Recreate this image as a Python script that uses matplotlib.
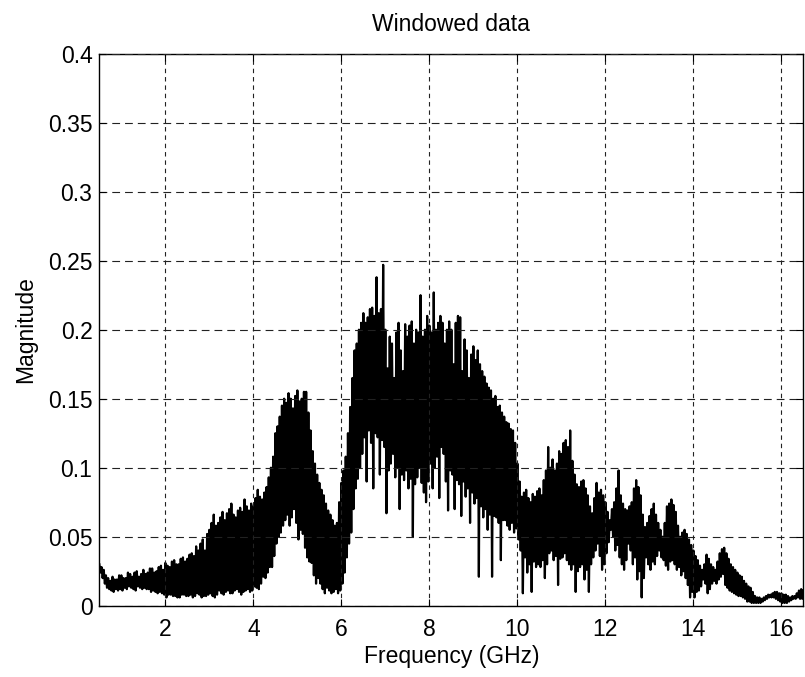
import numpy as np
import matplotlib
matplotlib.use("Agg")
import matplotlib.pyplot as plt

# Spectrum magnitude: local maxima every 0.05 GHz from 0.5 GHz and local
# minima every 0.05 GHz from 0.525 GHz of the windowed measurement.
peak_start, trough_start, step = 0.5, 0.525, 0.05

peaks = [
    0.030, 0.028, 0.026, 0.022, 0.020, 0.018, 0.021, 0.019, 0.019, 0.022,
    0.022, 0.020, 0.020, 0.024, 0.023, 0.021, 0.024, 0.025, 0.021, 0.023,
    0.026, 0.023, 0.024, 0.027, 0.027, 0.024, 0.025, 0.028, 0.029, 0.026,
    0.031, 0.029, 0.028, 0.032, 0.033, 0.030, 0.030, 0.034, 0.035, 0.032,
    0.034, 0.037, 0.038, 0.036, 0.043, 0.040, 0.045, 0.048, 0.040, 0.052,
    0.055, 0.060, 0.066, 0.058, 0.060, 0.064, 0.068, 0.062, 0.067, 0.070,
    0.074, 0.066, 0.064, 0.069, 0.071, 0.068, 0.077, 0.072, 0.069, 0.074,
    0.072, 0.078, 0.084, 0.079, 0.077, 0.082, 0.086, 0.093, 0.100, 0.108,
    0.125, 0.130, 0.137, 0.145, 0.150, 0.147, 0.154, 0.150, 0.143, 0.152,
    0.156, 0.148, 0.150, 0.155, 0.155, 0.140, 0.127, 0.112, 0.103, 0.095,
    0.089, 0.084, 0.080, 0.074, 0.069, 0.066, 0.062, 0.058, 0.060, 0.075,
    0.089, 0.098, 0.108, 0.125, 0.144, 0.165, 0.185, 0.190, 0.200, 0.205,
    0.212, 0.205, 0.209, 0.215, 0.216, 0.210, 0.238, 0.212, 0.215, 0.247,
    0.200, 0.172, 0.195, 0.190, 0.165, 0.198, 0.205, 0.185, 0.170, 0.204,
    0.195, 0.203, 0.206, 0.190, 0.200, 0.198, 0.225, 0.195, 0.200, 0.210,
    0.203, 0.198, 0.227, 0.200, 0.205, 0.210, 0.205, 0.190, 0.200, 0.206,
    0.200, 0.175, 0.205, 0.210, 0.209, 0.170, 0.193, 0.185, 0.165, 0.182,
    0.188, 0.178, 0.185, 0.175, 0.170, 0.166, 0.161, 0.158, 0.156, 0.150,
    0.152, 0.144, 0.145, 0.140, 0.137, 0.133, 0.132, 0.128, 0.127, 0.118,
    0.103, 0.090, 0.079, 0.082, 0.084, 0.078, 0.075, 0.081, 0.079, 0.083,
    0.085, 0.080, 0.091, 0.098, 0.115, 0.100, 0.106, 0.098, 0.103, 0.112,
    0.110, 0.118, 0.120, 0.115, 0.127, 0.105, 0.095, 0.088, 0.086, 0.090,
    0.091, 0.085, 0.080, 0.072, 0.067, 0.078, 0.089, 0.082, 0.084, 0.080,
    0.075, 0.068, 0.062, 0.070, 0.075, 0.085, 0.098, 0.080, 0.074, 0.070,
    0.069, 0.072, 0.075, 0.085, 0.091, 0.086, 0.080, 0.066, 0.057, 0.060,
    0.065, 0.070, 0.074, 0.066, 0.060, 0.055, 0.050, 0.060, 0.072, 0.074,
    0.077, 0.073, 0.068, 0.058, 0.050, 0.053, 0.055, 0.052, 0.048, 0.044,
    0.040, 0.036, 0.033, 0.029, 0.026, 0.030, 0.037, 0.034, 0.030, 0.028,
    0.026, 0.032, 0.038, 0.041, 0.042, 0.038, 0.034, 0.030, 0.028, 0.026,
    0.024, 0.022, 0.021, 0.018, 0.016, 0.014, 0.013, 0.010, 0.007, 0.006,
    0.006, 0.005, 0.006, 0.007, 0.008, 0.008, 0.009, 0.010, 0.010, 0.009,
    0.009, 0.008, 0.008, 0.007, 0.006, 0.007, 0.007, 0.009, 0.011, 0.012,
    0.011,
]

troughs = [
    0.024, 0.020, 0.016, 0.013, 0.012, 0.011, 0.010, 0.012, 0.011, 0.012,
    0.011, 0.013, 0.012, 0.014, 0.013, 0.012, 0.011, 0.014, 0.013, 0.012,
    0.013, 0.012, 0.012, 0.010, 0.011, 0.010, 0.009, 0.010, 0.009, 0.008,
    0.006, 0.008, 0.008, 0.007, 0.007, 0.006, 0.006, 0.008, 0.008, 0.007,
    0.007, 0.008, 0.006, 0.007, 0.009, 0.008, 0.006, 0.007, 0.007, 0.008,
    0.009, 0.007, 0.006, 0.008, 0.011, 0.009, 0.008, 0.010, 0.011, 0.009,
    0.009, 0.011, 0.012, 0.010, 0.008, 0.010, 0.011, 0.012, 0.010, 0.011,
    0.014, 0.013, 0.012, 0.016, 0.021, 0.020, 0.024, 0.028, 0.028, 0.036,
    0.045, 0.050, 0.053, 0.058, 0.062, 0.066, 0.058, 0.064, 0.070, 0.060,
    0.048, 0.055, 0.052, 0.042, 0.035, 0.032, 0.031, 0.022, 0.016, 0.020,
    0.016, 0.012, 0.009, 0.013, 0.011, 0.009, 0.010, 0.012, 0.009, 0.011,
    0.016, 0.024, 0.035, 0.045, 0.053, 0.070, 0.085, 0.092, 0.100, 0.110,
    0.122, 0.090, 0.127, 0.118, 0.085, 0.125, 0.122, 0.095, 0.120, 0.115,
    0.067, 0.098, 0.103, 0.110, 0.093, 0.100, 0.070, 0.095, 0.091, 0.098,
    0.085, 0.092, 0.050, 0.088, 0.093, 0.100, 0.089, 0.082, 0.075, 0.090,
    0.103, 0.085, 0.100, 0.108, 0.078, 0.115, 0.110, 0.090, 0.069, 0.098,
    0.095, 0.070, 0.091, 0.088, 0.065, 0.090, 0.079, 0.085, 0.060, 0.082,
    0.074, 0.078, 0.021, 0.072, 0.064, 0.070, 0.055, 0.066, 0.021, 0.065,
    0.064, 0.060, 0.033, 0.062, 0.062, 0.058, 0.055, 0.060, 0.053, 0.056,
    0.048, 0.040, 0.009, 0.035, 0.024, 0.030, 0.010, 0.032, 0.028, 0.030,
    0.028, 0.033, 0.020, 0.030, 0.038, 0.040, 0.033, 0.036, 0.015, 0.034,
    0.035, 0.038, 0.033, 0.030, 0.026, 0.030, 0.010, 0.025, 0.028, 0.030,
    0.019, 0.026, 0.010, 0.030, 0.035, 0.040, 0.045, 0.036, 0.026, 0.030,
    0.038, 0.046, 0.055, 0.050, 0.040, 0.044, 0.035, 0.030, 0.026, 0.033,
    0.045, 0.040, 0.030, 0.035, 0.019, 0.025, 0.006, 0.020, 0.035, 0.030,
    0.026, 0.032, 0.030, 0.036, 0.040, 0.035, 0.033, 0.029, 0.026, 0.032,
    0.033, 0.030, 0.026, 0.028, 0.022, 0.025, 0.020, 0.015, 0.006, 0.010,
    0.006, 0.010, 0.011, 0.014, 0.019, 0.016, 0.009, 0.012, 0.016, 0.018,
    0.016, 0.019, 0.021, 0.023, 0.015, 0.013, 0.011, 0.010, 0.009, 0.008,
    0.007, 0.007, 0.006, 0.005, 0.003, 0.003, 0.002, 0.002, 0.002, 0.002,
    0.002, 0.003, 0.004, 0.005, 0.006, 0.006, 0.006, 0.005, 0.004, 0.003,
    0.002, 0.002, 0.002, 0.003, 0.004, 0.005, 0.005, 0.006, 0.005, 0.005,
]

x_ticks = [2, 4, 6, 8, 10, 12, 14, 16]
y_ticks = [0, 0.05, 0.1, 0.15, 0.2, 0.25, 0.3, 0.35, 0.4]
y_tick_labels = ["0", "0.05", "0.1", "0.15", "0.2", "0.25", "0.3", "0.35", "0.4"]

# Interleave maxima and minima into one trace, ordered by frequency
f_peak = peak_start + step * np.arange(len(peaks))
f_trough = trough_start + step * np.arange(len(troughs))
freq = np.empty(len(peaks) + len(troughs))
mag = np.empty_like(freq)
freq[0::2], mag[0::2] = f_peak, peaks
freq[1::2], mag[1::2] = f_trough, troughs

plt.rcParams["font.family"] = ["Liberation Sans", "DejaVu Sans"]
fs = 16.5

fig = plt.figure(figsize=(8.05, 6.77), dpi=100)
ax = fig.add_axes([0.1234, 0.1053, 0.8746, 0.8154])

ax.plot(freq, mag, color="black", linewidth=1.6, solid_joinstyle="round")

ax.set_xlim(0.5, 16.5)
ax.set_ylim(0, 0.4)
ax.set_xticks(x_ticks)
ax.set_xticklabels([str(t) for t in x_ticks])
ax.set_yticks(y_ticks)
ax.set_yticklabels(y_tick_labels)

ax.xaxis.grid(True, color="#222222", linestyle=(0, (4, 3.5)), linewidth=0.8)
ax.yaxis.grid(True, color="#222222", linestyle=(0, (7, 4.5)), linewidth=0.8)
ax.set_axisbelow(False)
ax.tick_params(direction="in", length=5, width=0.8, top=True, right=True,
               labelsize=fs)
ax.tick_params(axis="x", pad=9)
ax.tick_params(axis="y", pad=5)
for s in ax.spines.values():
    s.set_linewidth(1.0)

ax.set_title("Windowed data", fontsize=fs, pad=16)
ax.set_xlabel("Frequency (GHz)", fontsize=fs, labelpad=3)
ax.set_ylabel("Magnitude", fontsize=fs, labelpad=8)

fig.savefig("out.png", dpi=100)
